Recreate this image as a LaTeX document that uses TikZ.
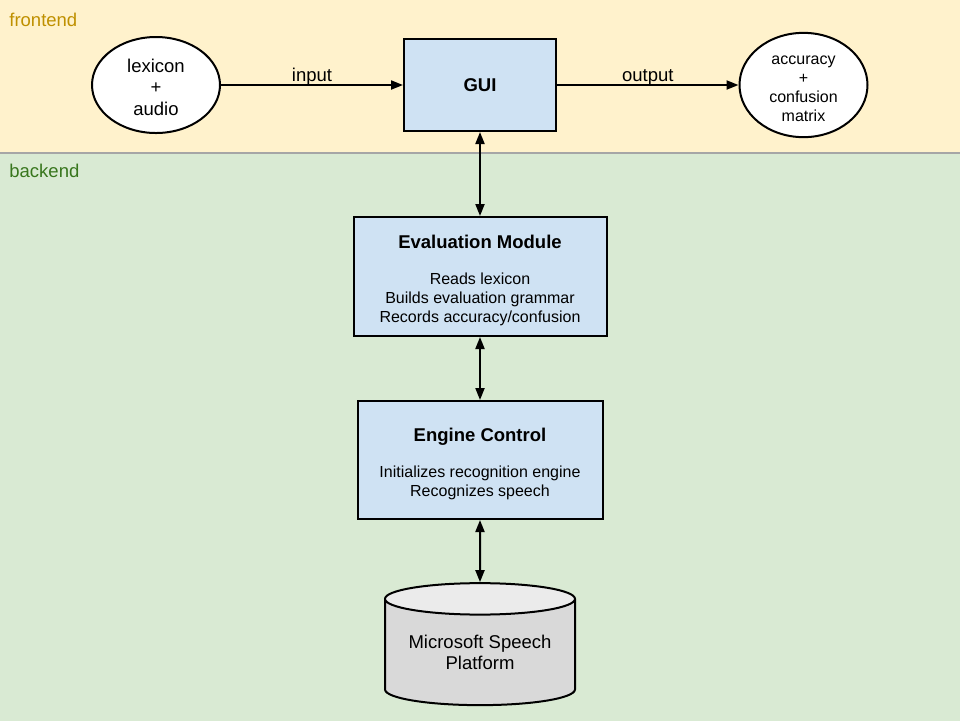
\documentclass[tikz,border=0pt]{standalone}
\usepackage{fontspec}
\setmainfont{Liberation Sans}
\usepackage{xcolor}
\usepackage{tikz}
\usetikzlibrary{arrows.meta, shapes.geometric}

\definecolor{frontfill}{HTML}{FFF2CC}
\definecolor{backfill}{HTML}{D9EAD3}
\definecolor{frontlabel}{HTML}{BF9000}
\definecolor{backlabel}{HTML}{38761D}
\definecolor{boxfill}{HTML}{CFE2F3}
\definecolor{cylbody}{HTML}{D9D9D9}
\definecolor{cyltop}{HTML}{EBEBEB}
\definecolor{bandline}{HTML}{A6A6A6}

\newcommand{\bigtxt}{\fontsize{9.25}{10.75}\selectfont}
\newcommand{\smalltxt}{\fontsize{8}{9.5}\selectfont}

\begin{document}
\begin{tikzpicture}[x=0.5pt, y=-0.5pt, >={Triangle[length=6pt, width=4.5pt]},
    box/.style={rectangle, draw, line width=1pt, fill=boxfill, align=center, inner sep=0pt},
    blob/.style={ellipse, draw, line width=1pt, fill=white, align=center, inner sep=0pt, minimum width=64pt, minimum height=48pt},
    flow/.style={line width=1pt},
    lbl/.style={inner sep=0pt, font=\bigtxt}]
                % Bands
                \useasboundingbox (0,0) rectangle (960,720);
                \fill[frontfill] (-5,-5) rectangle (965,153);
                \fill[backfill] (-5,153) rectangle (965,725);
                \draw[bandline, line width=1pt] (-5,153) -- (965,153);

                \node[lbl, anchor=west, text=frontlabel] (front) at (9,20) {frontend};
                \node[lbl, anchor=west, text=backlabel] (back) at (9,171) {backend};

                % Frontend
                \node[blob, font=\bigtxt] (lex) at (156,85) {\rule{0pt}{9pt}lexicon\\+\\audio};
                \node[box, minimum width=76pt, minimum height=46pt, font=\bigtxt\bfseries] (gui) at (480,85) {GUI};
                \node[blob, font=\smalltxt] (res) at (803.5,85) {\rule{0pt}{8.3pt}accuracy\\+\\confusion\\matrix};

                \draw[->, flow] (lex) -- node[lbl, above=-0.9pt] {input} (gui);
                \draw[->, flow] (gui) -- node[lbl, above=-0.9pt] {output} (res);

                % Backend
                \node[box, minimum width=126.5pt, minimum height=59.5pt, font=\smalltxt] (eval) at (480,276.5)
                    {\rule{0pt}{10.2pt}{\bigtxt\bfseries Evaluation Module}\\[8.5pt]Reads lexicon\\Builds evaluation grammar\\Records accuracy/confusion};
                \node[box, minimum width=122.5pt, minimum height=59pt, font=\smalltxt] (engine) at (480,460)
                    {\rule{0pt}{10.6pt}{\bigtxt\bfseries Engine Control}\\[8.5pt]Initializes recognition engine\\Recognizes speech};
                \node[cylinder, shape border rotate=90, draw, line width=1pt, aspect=0.22,
                      cylinder uses custom fill, cylinder body fill=cylbody, cylinder end fill=cyltop,
                      minimum width=95pt, minimum height=61pt, align=center, inner sep=0pt,
                      font=\bigtxt] (msp) at (480,652.5) {Microsoft Speech\\Platform};

                \draw[<->, flow] (gui) -- (eval);
                \draw[<->, flow] (eval) -- (engine);
                \draw[<->, flow] (engine) -- (msp);
            \end{tikzpicture}
\end{document}
